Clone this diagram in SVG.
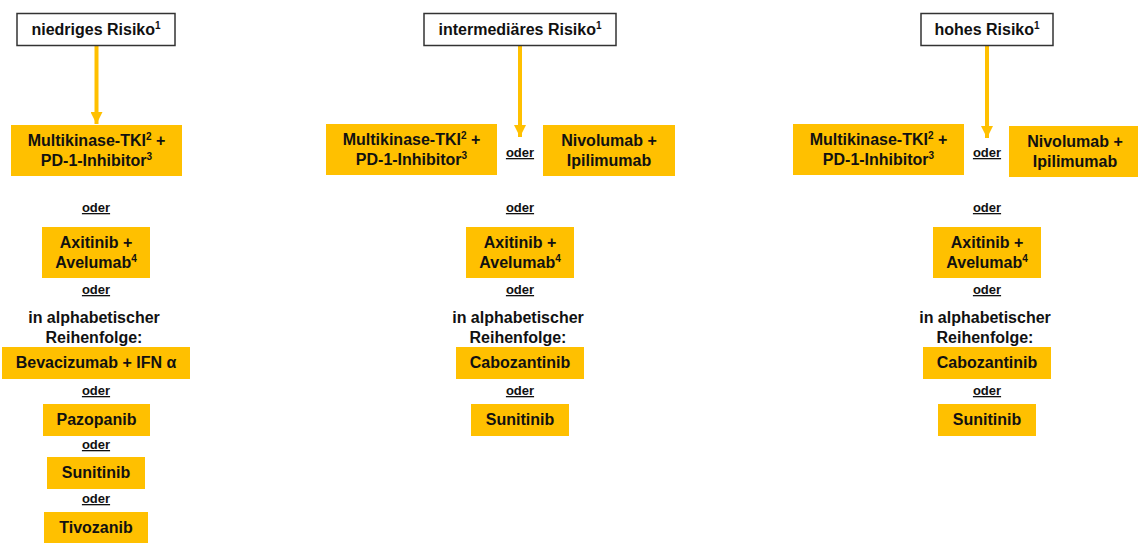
<svg xmlns="http://www.w3.org/2000/svg" width="1138" height="543" viewBox="0 0 1138 543">
<style>
text{font-family:"Liberation Sans",Arial,sans-serif;font-weight:bold;fill:#111;text-anchor:middle}
.t{font-size:16px}
.o{font-size:13px;text-decoration:underline}
.sup{font-size:10px}
.hdr{fill:#fff;stroke:#333;stroke-width:1.5}
.box{fill:#FFC000}
.arr{stroke:#FFC000;stroke-width:4;fill:none}
</style>
<defs>
<marker id="ah" markerUnits="userSpaceOnUse" markerWidth="12" markerHeight="12" refX="12" refY="6" orient="auto">
<path d="M0,0 L12,6 L0,12 z" fill="#FFC000"/>
</marker>
</defs>
<rect width="1138" height="543" fill="#fff"/>
<g id="connectors">
<line class="arr" x1="96.5" y1="46" x2="96.5" y2="124" marker-end="url(#ah)"/>
<line class="arr" x1="520" y1="46" x2="520" y2="137" marker-end="url(#ah)"/>
<line class="arr" x1="987" y1="46" x2="987" y2="138" marker-end="url(#ah)"/>
</g>
<!-- Left column -->
<g id="hdr-low"><rect class="hdr" x="17" y="13.5" width="158" height="32"/><text class="t" x="96" y="35">niedriges Risiko<tspan class="sup" dy="-6">1</tspan></text></g>
<g id="low-tki"><rect class="box" x="11" y="125" width="171" height="51"/><text class="t" x="96.5" y="146">Multikinase-TKI<tspan class="sup" dy="-6">2</tspan><tspan dy="6"> +</tspan></text><text class="t" x="96.5" y="166">PD-1-Inhibitor<tspan class="sup" dy="-6">3</tspan></text></g>
<text class="o" x="96" y="212">oder</text>
<g id="low-axi"><rect class="box" x="42" y="227" width="108" height="51"/><text class="t" x="96" y="248">Axitinib +</text><text class="t" x="96" y="268">Avelumab<tspan class="sup" dy="-6">4</tspan></text></g>
<text class="o" x="96" y="294">oder</text>
<text class="t" x="94" y="323">in alphabetischer</text>
<text class="t" x="94" y="343">Reihenfolge:</text>
<g id="low-bev"><rect class="box" x="2" y="347" width="188" height="32"/><text class="t" x="96" y="368">Bevacizumab + IFN α</text></g>
<text class="o" x="96" y="395">oder</text>
<g id="low-pazo"><rect class="box" x="43" y="404" width="107" height="32"/><text class="t" x="96.5" y="425">Pazopanib</text></g>
<text class="o" x="96" y="449">oder</text>
<g id="low-suni"><rect class="box" x="47" y="457" width="98" height="32"/><text class="t" x="96" y="478">Sunitinib</text></g>
<text class="o" x="96" y="503">oder</text>
<g id="low-tivo"><rect class="box" x="44" y="512" width="104" height="33"/><text class="t" x="96" y="533">Tivozanib</text></g>
<!-- Middle column -->
<g id="hdr-mid"><rect class="hdr" x="424" y="13.5" width="192" height="32"/><text class="t" x="520" y="35">intermediäres Risiko<tspan class="sup" dy="-6">1</tspan></text></g>
<g id="mid-tki"><rect class="box" x="326" y="124" width="171" height="51"/><text class="t" x="411.5" y="145">Multikinase-TKI<tspan class="sup" dy="-6">2</tspan><tspan dy="6"> +</tspan></text><text class="t" x="411.5" y="165">PD-1-Inhibitor<tspan class="sup" dy="-6">3</tspan></text></g>
<text class="o" x="520" y="157">oder</text>
<g id="mid-nivo"><rect class="box" x="543" y="125" width="132" height="51"/><text class="t" x="609" y="146">Nivolumab +</text><text class="t" x="609" y="166">Ipilimumab</text></g>
<text class="o" x="520" y="212">oder</text>
<g id="mid-axi"><rect class="box" x="466" y="227" width="108" height="51"/><text class="t" x="520" y="248">Axitinib +</text><text class="t" x="520" y="268">Avelumab<tspan class="sup" dy="-6">4</tspan></text></g>
<text class="o" x="520" y="294">oder</text>
<text class="t" x="518" y="323">in alphabetischer</text>
<text class="t" x="518" y="343">Reihenfolge:</text>
<g id="mid-cabo"><rect class="box" x="456" y="347" width="128" height="32"/><text class="t" x="520" y="368">Cabozantinib</text></g>
<text class="o" x="520" y="395">oder</text>
<g id="mid-suni"><rect class="box" x="471" y="404" width="98" height="32"/><text class="t" x="520" y="425">Sunitinib</text></g>
<!-- Right column -->
<g id="hdr-high"><rect class="hdr" x="921" y="13.5" width="132" height="32"/><text class="t" x="987" y="35">hohes Risiko<tspan class="sup" dy="-6">1</tspan></text></g>
<g id="high-tki"><rect class="box" x="793" y="124" width="171" height="51"/><text class="t" x="878.5" y="145">Multikinase-TKI<tspan class="sup" dy="-6">2</tspan><tspan dy="6"> +</tspan></text><text class="t" x="878.5" y="165">PD-1-Inhibitor<tspan class="sup" dy="-6">3</tspan></text></g>
<text class="o" x="987" y="157">oder</text>
<g id="high-nivo"><rect class="box" x="1009" y="126" width="132" height="51"/><text class="t" x="1075" y="147">Nivolumab +</text><text class="t" x="1075" y="167">Ipilimumab</text></g>
<text class="o" x="987" y="212">oder</text>
<g id="high-axi"><rect class="box" x="933" y="227" width="108" height="51"/><text class="t" x="987" y="248">Axitinib +</text><text class="t" x="987" y="268">Avelumab<tspan class="sup" dy="-6">4</tspan></text></g>
<text class="o" x="987" y="294">oder</text>
<text class="t" x="985" y="323">in alphabetischer</text>
<text class="t" x="985" y="343">Reihenfolge:</text>
<g id="high-cabo"><rect class="box" x="923" y="347" width="128" height="32"/><text class="t" x="987" y="368">Cabozantinib</text></g>
<text class="o" x="987" y="395">oder</text>
<g id="high-suni"><rect class="box" x="938" y="404" width="98" height="32"/><text class="t" x="987" y="425">Sunitinib</text></g>
</svg>
